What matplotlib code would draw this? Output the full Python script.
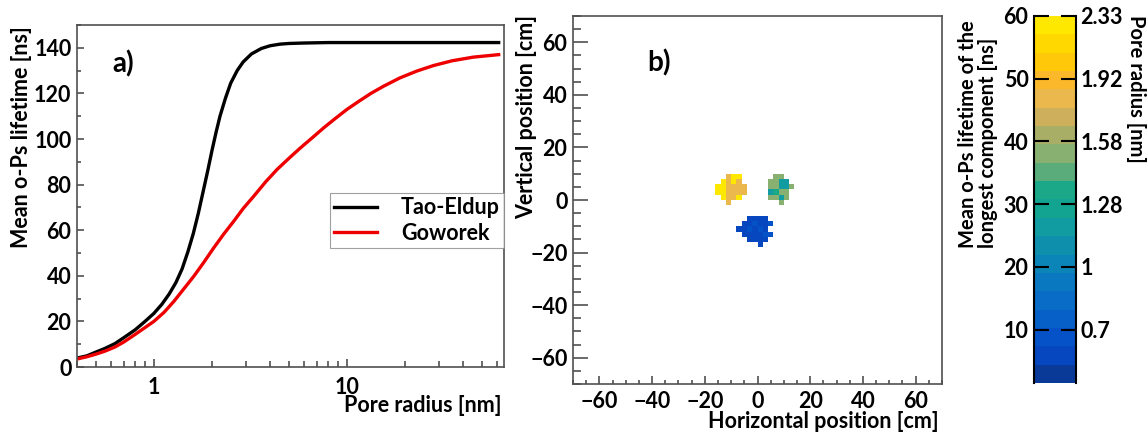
"""
Mean o-Ps lifetime vs pore radius (a) and lifetime map of three inserts (b)
"""
import numpy as np
import matplotlib
matplotlib.use("Agg")
import matplotlib.pyplot as plt
from matplotlib.colors import ListedColormap, Normalize

plt.rcParams['font.family'] = ['Lato', 'DejaVu Sans']
plt.rcParams['font.weight'] = 'bold'
plt.rcParams['axes.labelweight'] = 'bold'

###############################################################################
# data

# panel a) - models
r_tao = [0.40, 0.45, 0.50, 0.56, 0.63, 0.70, 0.80, 0.90, 1.00, 1.10, 1.20,
         1.30, 1.40, 1.50, 1.60, 1.70, 1.80, 1.90, 2.00, 2.10, 2.20, 2.35,
         2.50, 2.70, 2.90, 3.20, 3.60, 4.00, 4.50, 5.00, 6.00, 8.00, 61.0]
tau_tao = [3.9, 4.9, 6.5, 8.2, 10.3, 12.9, 16.3, 20.0, 23.5, 27.5, 32.0,
           37.0, 43.0, 50.5, 58.5, 67.5, 77.0, 86.0, 95.0, 103.0, 110.0, 118.0,
           124.5, 130.0, 133.8, 137.3, 139.7, 140.9, 141.6, 141.9, 142.1,
           142.3, 142.3]

r_gow = [0.40, 0.45, 0.50, 0.56, 0.63, 0.70, 0.80, 0.90, 1.00, 1.13, 1.27,
         1.43, 1.61, 1.80, 2.04, 2.30, 2.59, 2.90, 3.29, 3.80, 4.34, 5.00,
         5.74, 6.60, 7.60, 8.70, 10.0, 11.5, 13.3, 15.5, 18.8, 23.0, 28.0,
         35.0, 45.0, 61.0]
tau_gow = [3.5, 4.5, 5.6, 7.0, 8.8, 11.0, 14.3, 17.3, 20.0, 24.0, 28.8,
           34.3, 39.8, 45.5, 52.2, 58.3, 63.9, 69.5, 74.9, 81.3, 86.6, 91.5,
           96.1, 100.5, 105.0, 109.0, 113.0, 116.5, 120.0, 123.2, 126.8, 129.8,
           132.2, 134.3, 135.9, 137.0]

# panel b) - image cells (centre x, centre y in cm, lifetime in ns)
cell_x = [-11, -9, -7,
          -13, -11, -9, -7,
          -15, -13, -11, -9, -7, -5,
          -15, -13, -11, -9, -7, -5,
          -13, -11, -9, -7,
          -11,
          7, 9,
          5, 7, 9, 11,
          5, 7, 9, 11, 13,
          5, 7, 9, 11,
          5, 7, 9, 11,
          9,
          -3, -1, 1, 3,
          -5, -3, -1, 1, 3, 5,
          -7, -5, -3, -1, 1, 3,
          -5, -3, -1, 1, 3, 5,
          -3, -1, 1, 3,
          1]
cell_y = [9, 9, 9,
          7, 7, 7, 7,
          5, 5, 5, 5, 5, 5,
          3, 3, 3, 3, 3, 3,
          1, 1, 1, 1,
          -1,
          9, 9,
          7, 7, 7, 7,
          5, 5, 5, 5, 5,
          3, 3, 3, 3,
          1, 1, 1, 1,
          -1,
          -7, -7, -7, -7,
          -9, -9, -9, -9, -9, -9,
          -11, -11, -11, -11, -11, -11,
          -13, -13, -13, -13, -13, -13,
          -15, -15, -15, -15,
          -17]
cell_tau = [48, 59, 59,
            59, 48, 59, 48,
            59, 59, 48, 48, 48, 48,
            59, 59, 48, 48, 48, 48,
            59, 48, 48, 59,
            48,
            37, 37,
            37, 37, 27, 27,
            37, 37, 27, 27, 37,
            27, 33, 37, 37,
            37, 37, 27, 37,
            37,
            5, 5, 5, 5,
            5, 5, 10, 5, 5, 10,
            5, 5, 10, 5, 10, 5,
            5, 5, 5, 5, 10, 10,
            5, 5, 5, 5,
            5]

cbar_ticks = [10, 20, 30, 40, 50, 60]
cbar_radius = ['0.7', '1', '1.28', '1.58', '1.92', '2.33']

# 20 contour colours of the palette, bottom to top
band_colors = ['#0a3a98', '#0646bf', '#0552c8', '#0760c8', '#096cc6',
               '#0a78c0', '#0b84b8', '#0e90ac', '#109ca0', '#12a490',
               '#1aa888', '#5aac7a', '#88b070', '#a8ae66', '#ceb05c',
               '#eab84c', '#fbb82a', '#ffc808', '#ffd800', '#ffe800']
tau_min, tau_max = 1.5, 60.0

###############################################################################
fig = plt.figure(figsize=(11.48, 4.33), dpi=100)
W, H = 1148.0, 433.0
FS = 15.5    # tick labels
LS = 15.5    # axis titles
CS = 14.5    # colour bar titles

def box(l, t, r, b):
    return [l / W, 1 - b / H, (r - l) / W, (b - t) / H]

frame = '#505050'

# ---- panel a
ax = fig.add_axes(box(77, 25, 504, 367))
ax.plot(r_tao, tau_tao, color='black', lw=2.4, label='Tao-Eldup')
ax.plot(r_gow, tau_gow, color='#ee0000', lw=2.4, label='Goworek')
ax.set_xscale('log')
ax.set_xlim(0.4, 65)
ax.set_ylim(0, 150)
ax.set_yticks(range(0, 141, 20))
ax.set_yticks(range(0, 151, 10), minor=True)
ax.set_xticks([1, 10])
ax.set_xticklabels(['1', '10'])
ax.xaxis.set_minor_formatter(plt.NullFormatter())
ax.tick_params(which='both', direction='in', color=frame, width=1.2,
               labelsize=FS, top=False, right=False)
ax.tick_params(axis='y', which='major', length=5, pad=4)
ax.tick_params(axis='y', which='minor', length=3)
ax.tick_params(axis='x', which='major', length=6, pad=7)
ax.tick_params(axis='x', which='minor', length=4)
for s in ax.spines.values():
    s.set_color(frame)
    s.set_linewidth(1.2)
ax.text(0.082, 0.86, 'a)', transform=ax.transAxes, fontsize=20,
        fontweight='bold')
leg = ax.legend(loc='upper right', bbox_to_anchor=(1.0, 0.509),
                borderaxespad=0, fancybox=False, edgecolor='#888888',
                fontsize=15.5, handlelength=2.0, handletextpad=1.1,
                borderpad=0.2, labelspacing=0.2)
leg.get_frame().set_linewidth(0.8)
fig.text(22 / W, 1 - 26 / H, 'Mean o-Ps lifetime [ns]', rotation=90,
         ha='center', va='top', fontsize=LS, fontweight='bold')
fig.text(501 / W, 1 - 406 / H, 'Pore radius [nm]', ha='right',
         va='center', fontsize=LS, fontweight='bold')

# ---- panel b
cmap = ListedColormap(band_colors)
norm = Normalize(tau_min, tau_max)
edges = np.arange(-70, 71, 2)
grid = np.full((len(edges) - 1, len(edges) - 1), np.nan)
ix = np.searchsorted(edges, cell_x) - 1
iy = np.searchsorted(edges, cell_y) - 1
grid[iy, ix] = cell_tau

bx = fig.add_axes(box(573, 16, 942, 384))
bx.pcolormesh(edges, edges, np.ma.masked_invalid(grid), cmap=cmap, norm=norm)
bx.set_xlim(-70, 70)
bx.set_ylim(-70, 70)
bx.set_xticks(range(-60, 61, 20))
bx.set_yticks(range(-60, 61, 20))
bx.set_xticks(range(-70, 71, 5), minor=True)
bx.set_yticks(range(-70, 71, 5), minor=True)
bx.tick_params(which='both', direction='in', color=frame, width=1.2,
               labelsize=FS)
bx.tick_params(axis='y', which='major', length=11, pad=4)
bx.tick_params(axis='y', which='minor', length=5.5)
bx.tick_params(axis='x', which='major', length=6, pad=5)
bx.tick_params(axis='x', which='minor', length=3)
for s in bx.spines.values():
    s.set_color(frame)
    s.set_linewidth(1.2)
bx.text(0.2, 0.85, 'b)', transform=bx.transAxes, fontsize=20,
        fontweight='bold')
fig.text(527 / W, 1 - 15 / H, 'Vertical position [cm]', rotation=90,
         ha='center', va='top', fontsize=LS, fontweight='bold')
fig.text(939 / W, 1 - 421 / H, 'Horizontal position [cm]', ha='right',
         va='center', fontsize=LS, fontweight='bold')

# ---- colour bar
levels = np.linspace(tau_min, tau_max, len(band_colors) + 1)
mids = 0.5 * (levels[1:] + levels[:-1])
cax = fig.add_axes(box(1034, 16, 1076, 383))
cax.pcolormesh([0, 1], levels, mids[:, None], cmap=cmap, norm=norm)
cax.set_xlim(0, 1)
cax.set_ylim(tau_min, tau_max)
cax.set_xticks([])
cax.set_yticks(cbar_ticks)
cax.tick_params(axis='y', direction='in', length=11, width=1.5,
                labelsize=FS, pad=4)
cax.spines['top'].set_visible(False)
cax.spines['bottom'].set_visible(False)
for s in ('left', 'right'):
    cax.spines[s].set_linewidth(1.5)
cax2 = cax.twinx()
cax2.set_ylim(tau_min, tau_max)
cax2.set_yticks(cbar_ticks)
cax2.set_yticklabels(cbar_radius)
cax2.tick_params(axis='y', direction='in', length=11, width=1.5,
                 labelsize=FS, pad=3)
for s in cax2.spines.values():
    s.set_visible(False)

fig.text(978 / W, 1 - 20 / H,
         'Mean o-Ps lifetime of the\nlongest component [ns]', rotation=90,
         ha='center', va='top', multialignment='left', fontsize=CS,
         fontweight='bold', linespacing=1.0)
fig.text(1136 / W, 1 - 15 / H, 'Pore radius [nm]', rotation=-90,
         ha='center', va='top', fontsize=CS, fontweight='bold')

fig.savefig('out.png', dpi=100)
